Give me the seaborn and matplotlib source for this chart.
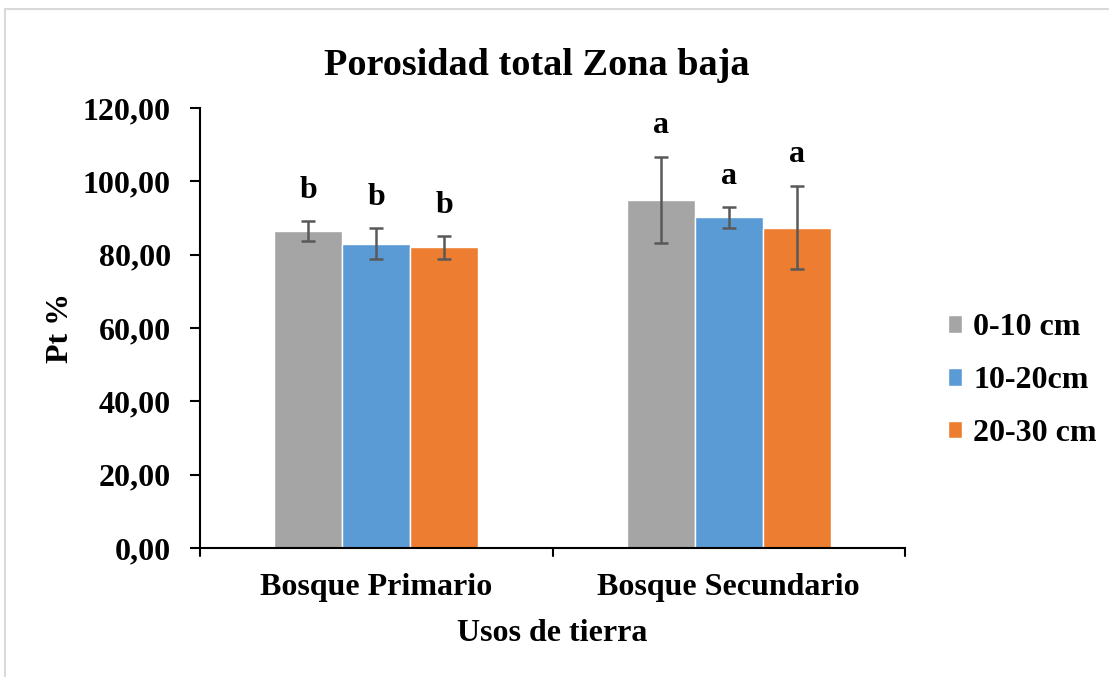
import numpy as np
import pandas as pd
import seaborn as sns
import matplotlib.pyplot as plt
from matplotlib.patches import Rectangle

# values
usos = ["Bosque Primario", "Bosque Secundario"]
profundidades = ["0-10 cm", "10-20cm", "20-30 cm"]
pt_0_10 = [86.5, 95.0]
pt_10_20 = [83.0, 90.2]
pt_20_30 = [82.0, 87.4]
err_0_10 = [2.7, 11.7]
err_10_20 = [4.3, 2.8]
err_20_30 = [3.1, 11.4]
letras_0_10 = ["b", "a"]
letras_10_20 = ["b", "a"]
letras_20_30 = ["b", "a"]
colores = ["#A5A5A5", "#5B9BD5", "#ED7D31"]

medias = [pt_0_10, pt_10_20, pt_20_30]
errores = [err_0_10, err_10_20, err_20_30]
letras = [letras_0_10, letras_10_20, letras_20_30]

df = pd.DataFrame({
    "uso": np.tile(usos, len(profundidades)),
    "prof": np.repeat(profundidades, len(usos)),
    "pt": np.concatenate(medias),
})

sns.set_theme(style="white")
plt.rcParams['font.family'] = ['Liberation Serif', 'DejaVu Serif']
plt.rcParams['font.weight'] = 'bold'
plt.rcParams['text.color'] = 'black'
plt.rcParams['axes.labelcolor'] = 'black'
plt.rcParams['xtick.color'] = 'black'
plt.rcParams['ytick.color'] = 'black'

fs = 23

fig = plt.figure(figsize=(11.09, 6.77), dpi=100)
ax = fig.add_axes([200 / 1109, 1 - 548 / 677, 705 / 1109, 440 / 677])

sns.barplot(data=df, x="uso", y="pt", hue="prof", order=usos, hue_order=profundidades,
            palette=colores, width=0.58, errorbar=None, saturation=1, ax=ax)

# error bars and significance letters on top of each bar
barras = list(ax.containers)
for i, cont in enumerate(barras):
    for j, bar in enumerate(cont):
        xc = bar.get_x() + bar.get_width() / 2
        m = medias[i][j]
        e = errores[i][j]
        ax.errorbar(xc, m, yerr=e, fmt="none", ecolor="#595959", elinewidth=1.8,
                    capsize=5, capthick=1.8, zorder=3)
        ax.text(xc, m + e + 8.4, letras[i][j], ha="center", va="center",
                fontsize=fs, fontweight="bold")

ax.set_ylim(0, 120)
ax.set_xlim(-0.5, 1.5)
ax.set_yticks(np.arange(0, 121, 20))
ax.set_yticklabels([f"{v:.2f}".replace(".", ",") for v in np.arange(0, 121, 20)],
                   fontsize=fs, fontweight="bold")
ax.set_xticks([0, 1])
ax.set_xticklabels(usos, fontsize=fs, fontweight="bold")
ax.tick_params(axis="x", length=0, pad=18)
ax.tick_params(axis="y", length=7, width=1.5, left=True, direction="out", pad=14)
# category separator ticks on the x axis
for xb in [-0.5, 0.5, 1.5]:
    ax.plot([xb, xb], [0, -2.2], color="black", lw=1.5, clip_on=False)

for s in ["top", "right"]:
    ax.spines[s].set_visible(False)
ax.spines["left"].set_color("black")
ax.spines["bottom"].set_color("black")
ax.spines["left"].set_linewidth(1.5)
ax.spines["bottom"].set_linewidth(1.5)

ax.set_xlabel("Usos de tierra", fontsize=fs, fontweight="bold", labelpad=12)
ax.set_ylabel("Pt %", fontsize=fs, fontweight="bold", labelpad=6)
ax.set_title("Porosidad total Zona baja", fontsize=27.5, fontweight="bold", pad=24, x=0.478)

ax.legend(loc="center left", bbox_to_anchor=(1.02, 0.38), frameon=False,
          prop={"size": fs, "weight": "bold"}, handlelength=0.45, handleheight=0.45,
          handletextpad=0.35, labelspacing=0.75)

fig.patches.append(Rectangle((5 / 1109, -0.1), 1.2, 1 - 9 / 677 + 0.1,
                             transform=fig.transFigure, fill=False,
                             edgecolor="#D9D9D9", lw=1.5))

fig.savefig("out.png", dpi=100)
